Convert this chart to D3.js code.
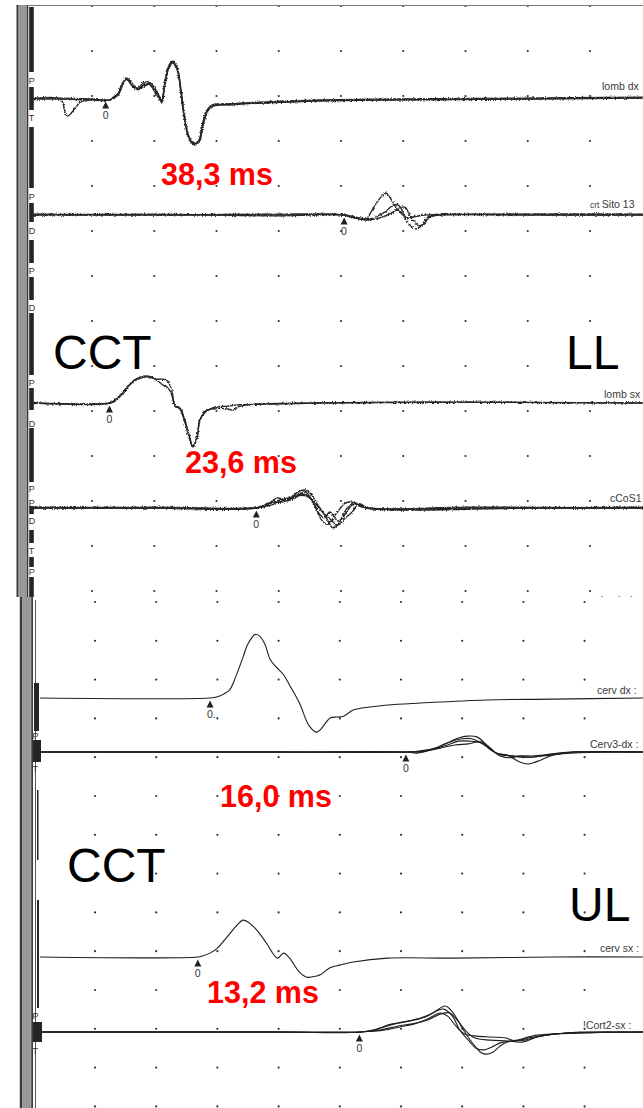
<!DOCTYPE html>
<html>
<head>
<meta charset="utf-8">
<script src="https://cdn.jsdelivr.net/npm/d3@7"></script>
<style>
  html, body { margin: 0; padding: 0; background: #fff; }
  svg { display: block; }
</style>
</head>
<body>
<script>
// ---------------- data ----------------
// Channel names as printed at the right end of each sweep
const lowerChannels = ["lomb dx", "crt Sito 13", "lomb sx", "cCoS1"];
const upperChannels = ["cerv dx :", "Cerv3-dx :", "cerv sx :", "!Cort2-sx :"];

// Spinal (lumbar / cervical) onset marker, ms, and central conduction time, ms
const lowerSpinalOnset = [12.2, 12.8];
const lowerCct = [38.3, 23.6];
const upperSpinalOnset = [14.4, 13.4];
const upperCct = [16.0, 13.2];

// Onset marker captions, one per channel
const lowerMarkerText = ["0", "0", "0", "0"];
const upperMarkerText = ["0.", "0", "0", "0"];

// Time grid (ms): 10 ms/div for the lower limbs, 5 ms/div for the upper limbs
const lowerTimeTicks = [10, 20, 30, 40, 50, 60, 70, 80, 90];
const upperTimeTicks = [5, 10, 15, 20, 25, 30, 35, 40, 45];
const gridRows = [0, 1, 2, 3, 4, 5, 6, 7, 8, 9, 10, 11, 12, 13];

// Averaged sweeps: [time ms, amplitude in vertical divisions, positive up]
const lombDx = [
  [[0.7,0],[4.9,0],[9.7,-0.02],[12.9,-0.02],[13.4,0.04],[14.2,0.11],[14.8,0.3],[15.5,0.47],[16.1,0.4],[16.6,0.33],[17.4,0.2],[18.2,0.31],[18.8,0.33],[19.3,0.36],[20.1,0.24],[20.9,0.02],[21.2,-0.09],[21.7,0.31],[22.4,0.71],[23.0,0.82],[23.7,0.69],[24.3,0.2],[24.9,-0.42],[25.6,-0.84],[26.4,-1.02],[27.2,-0.91],[27.8,-0.53],[28.5,-0.24],[29.3,-0.13],[32.2,-0.11],[37.0,-0.07],[46.6,-0.02],[59.5,0.0],[78.8,0.02],[98.5,0.04]],
  [[0.7,0],[4.9,0],[6.0,-0.38],[7.3,-0.2],[8.1,-0.07],[9.7,-0.02],[12.9,-0.02],[13.4,0.02],[14.2,0.09],[14.8,0.27],[15.5,0.44],[16.1,0.38],[16.6,0.29],[17.4,0.24],[18.2,0.36],[18.8,0.38],[19.3,0.33],[20.1,0.16],[20.9,-0.02],[21.2,-0.04],[21.7,0.33],[22.4,0.73],[23.0,0.8],[23.7,0.64],[24.3,0.16],[24.9,-0.47],[25.6,-0.87],[26.4,-0.98],[27.2,-0.96],[27.8,-0.6],[28.5,-0.29],[29.3,-0.16],[32.2,-0.13],[37.0,-0.09],[46.6,-0.04],[59.5,-0.02],[78.8,0.0],[98.5,0.02]],
  [[0.7,0.02],[4.9,0.02],[9.7,0],[12.9,-0.02],[13.4,0.02],[14.2,0.13],[14.8,0.33],[15.5,0.44],[16.1,0.36],[16.6,0.27],[17.4,0.22],[18.2,0.27],[18.8,0.31],[19.3,0.31],[20.1,0.2],[20.9,0.04],[21.2,-0.04],[21.7,0.36],[22.4,0.76],[23.0,0.84],[23.7,0.67],[24.3,0.13],[24.9,-0.47],[25.6,-0.89],[26.4,-1.0],[27.2,-0.93],[27.8,-0.56],[28.5,-0.27],[29.3,-0.16],[32.2,-0.11],[37.0,-0.09],[46.6,-0.04],[59.5,-0.02],[78.8,0.0],[98.5,0.02]]
];
const crtSito = [
  [[0.7,0],[20,0.02],[40,-0.02],[50.5,0],[52.3,-0.07],[54.0,-0.09],[55.0,0.11],[56.3,0.38],[57.2,0.49],[58.0,0.36],[58.8,0.18],[59.8,0.02],[60.8,-0.07],[61.7,-0.04],[63.5,0],[75,0.02],[98.5,0.02]],
  [[0.7,0.02],[20,0],[40,0],[50.5,0],[53.1,-0.09],[54.3,-0.11],[55.6,-0.04],[57.1,0.07],[58.2,0.2],[59.0,0.24],[59.6,0.16],[60.4,-0.09],[61.2,-0.24],[62.0,-0.31],[62.9,-0.24],[64.0,-0.04],[65.9,0],[80,0],[98.5,0]],
  [[0.7,0],[20,0],[40,0.02],[50.5,0],[53.9,-0.09],[55.5,-0.09],[57.1,-0.02],[58.7,0.09],[59.8,0.18],[60.4,0.16],[61.1,-0.02],[61.9,-0.16],[62.5,-0.24],[63.3,-0.2],[64.3,-0.04],[65.9,0],[85,0],[98.5,0]]
];
const lombSx = [
  [[0.7,0],[12.9,0],[13.7,0.07],[15.0,0.24],[16.6,0.47],[18.8,0.58],[20.4,0.53],[22.0,0.51],[22.8,0.29],[23.3,-0.04],[24.1,-0.11],[24.9,-0.38],[25.7,-0.76],[26.2,-0.98],[26.9,-0.76],[27.3,-0.38],[28.2,-0.2],[29.4,-0.11],[31.7,-0.07],[33.8,-0.04],[46.6,0],[64.3,0.02],[98.5,0]],
  [[0.7,0],[12.9,0],[13.7,0.04],[15.0,0.22],[16.6,0.49],[18.8,0.6],[20.4,0.51],[21.4,0.4],[22.0,0.36],[22.8,0.2],[23.3,-0.07],[24.1,-0.13],[24.9,-0.42],[25.7,-0.8],[26.2,-0.96],[26.9,-0.73],[27.3,-0.4],[28.2,-0.18],[29.4,-0.13],[31.7,-0.13],[32.7,-0.16],[33.8,-0.07],[46.6,0],[98.5,0]]
];
const cCoS1 = [
  [[0.7,0],[20,0.02],[36.3,0],[37.8,0.04],[39.7,0.22],[41.5,0.18],[43.1,0.36],[44.2,0.4],[45.3,0.29],[46.3,0.07],[47.4,-0.16],[48.7,-0.44],[49.8,-0.31],[51.0,0],[52.3,0.11],[53.9,0],[70,0.02],[98.5,0]],
  [[0.7,0.02],[20,0],[36.3,0],[38.3,0.09],[40.2,0.18],[42.1,0.24],[43.7,0.31],[45.0,0.24],[46.0,0],[46.9,-0.27],[47.9,-0.36],[49.2,-0.13],[50.7,0.11],[51.8,0.13],[53.4,0.02],[75,0],[98.5,0]],
  [[0.7,0],[20,0],[36.3,0],[38.6,0.11],[40.5,0.13],[42.6,0.22],[44.2,0.36],[45.3,0.18],[46.3,-0.09],[47.3,-0.22],[48.2,-0.09],[49.5,-0.29],[50.5,-0.18],[51.8,0.07],[53.1,0.09],[54.3,0],[80,0],[98.5,0.02]],
  [[0.7,0],[20,0],[36.3,0],[38.9,0.07],[41.0,0.18],[42.8,0.27],[44.4,0.27],[45.8,0.11],[46.9,-0.07],[48.2,-0.24],[49.5,-0.38],[50.7,-0.22],[51.8,-0.09],[52.7,0.07],[54.3,0],[70,0],[98.5,0]]
];
const cervDx = [
  [[0.5,0],[14.4,0],[15.0,0.03],[15.5,0.1],[16.0,0.21],[16.5,0.55],[17.1,1.06],[17.5,1.4],[18.1,1.64],[18.5,1.58],[18.9,1.37],[19.3,1.0],[19.8,0.8],[20.4,0.6],[20.9,0.33],[21.7,-0.13],[22.5,-0.72],[23.1,-0.88],[23.4,-0.82],[24.2,-0.52],[24.8,-0.49],[25.3,-0.47],[26.1,-0.31],[27.5,-0.23],[28.9,-0.18],[31.6,-0.13],[37.0,-0.05],[42.4,-0.03],[49.8,0]]
];
const cerv3Dx = [
  [[0.5,0],[20,0],[30.5,0],[31.3,-0.03],[32.4,0.05],[33.6,0.21],[34.7,0.36],[35.4,0.41],[36.2,0.39],[37.0,0.18],[37.8,-0.03],[38.7,-0.08],[39.7,-0.26],[40.4,-0.31],[41.4,-0.21],[42.4,-0.08],[43.8,-0.03],[49.8,0]],
  [[0.5,0],[20,0],[30.5,0],[31.6,0],[32.8,0.1],[34.0,0.26],[35.0,0.34],[35.8,0.34],[36.8,0.18],[37.6,0],[38.5,-0.08],[39.7,-0.13],[40.9,-0.13],[42.2,-0.05],[43.8,0],[49.8,0]],
  [[0.5,0],[20,0],[30.5,0],[31.6,0.03],[32.6,0.08],[33.8,0.18],[34.7,0.28],[35.6,0.28],[36.6,0.23],[37.4,0.05],[38.1,-0.1],[38.9,-0.15],[39.7,-0.1],[40.9,-0.1],[42.6,-0.05],[44.2,0],[49.8,0]],
  [[0.5,0],[20,0],[30.5,0],[32.0,0.03],[33.2,0.1],[34.4,0.18],[35.5,0.21],[36.5,0.26],[37.3,0.1],[37.9,-0.05],[39.1,-0.1],[40.5,-0.13],[42.2,-0.08],[44.2,0],[49.8,0]]
];
const cervSx = [
  [[0.5,0],[13.4,0],[13.8,0.03],[14.4,0.1],[15.0,0.23],[15.8,0.52],[16.6,0.82],[17.1,0.95],[17.5,0.9],[18.2,0.7],[19.0,0.36],[19.9,-0.03],[20.4,0.1],[20.9,-0.03],[21.7,-0.39],[22.3,-0.52],[23.1,-0.49],[23.4,-0.46],[24.2,-0.28],[25.0,-0.21],[26.1,-0.13],[28.9,-0.03],[34.2,-0.03],[42.4,0],[49.8,0]]
];
const cort2Sx = [
  [[0.5,0],[20,0],[26.7,0],[27.9,0.05],[28.9,0.18],[30.2,0.26],[31.6,0.36],[32.6,0.49],[33.6,0.67],[34.2,0.52],[35.1,0.05],[35.9,-0.31],[36.5,-0.52],[36.9,-0.57],[37.5,-0.52],[38.1,-0.36],[38.7,-0.26],[39.5,-0.21],[41.1,-0.08],[43.8,-0.03],[49.8,0]],
  [[0.5,0],[20,0],[26.7,0],[28.3,0.1],[29.5,0.21],[30.7,0.28],[32.0,0.39],[32.9,0.54],[33.5,0.59],[34.2,0.41],[34.8,0.05],[35.5,-0.21],[36.1,-0.41],[36.8,-0.46],[37.4,-0.39],[38.1,-0.28],[38.9,-0.23],[40.1,-0.21],[41.8,-0.08],[44.2,-0.03],[49.8,0]],
  [[0.5,0],[20,0],[26.7,0],[28.7,0.05],[29.9,0.13],[31.1,0.21],[32.2,0.34],[33.2,0.49],[33.8,0.41],[34.5,0.15],[35.2,-0.05],[36.0,-0.1],[37.3,-0.13],[38.5,-0.15],[39.3,-0.23],[40.5,-0.15],[42.6,-0.05],[44.6,0],[49.8,0]],
  [[0.5,0],[20,0],[26.7,0],[28.3,0.05],[29.7,0.15],[30.9,0.21],[32.2,0.31],[33.2,0.46],[34.0,0.49],[34.7,0.26],[35.3,0.03],[36.0,-0.15],[37.3,-0.21],[38.7,-0.23],[39.9,-0.26],[41.4,-0.1],[43.4,-0.03],[49.8,0]]
];

// ---------------- layout ----------------
const W = 643, H = 1108;
const FONT = "'Liberation Sans', Arial, Helvetica, sans-serif";

const lowerPanel = {
  clip: [0, 597], xRange: [29.75, 652.25], xDomain: [0, 100], divPx: 45,
  rowRange: [6, 591], baselines: [99, 215, 403, 508],
  labelPos: [[602, -9], [606, -7], [604, -5], [610, -6]],
  noisy: true
};
const upperPanel = {
  clip: [597, 1108], xRange: [33.8, 645.8], xDomain: [0, 50], divPx: 38.8,
  rowRange: [602, 1106.4], baselines: [698, 752, 957, 1032],
  labelPos: [[597, -4], [590, -4], [600, -5], [583, -3]],
  noisy: false
};

const svg = d3.select("body").append("svg")
  .attr("width", W).attr("height", H)
  .attr("font-family", FONT);
svg.append("rect").attr("width", W).attr("height", H).attr("fill", "#fff");

const defs = svg.append("defs");
// scanner grain on the noisy low-amplitude lower-limb recordings
[1, 2, 3, 4].forEach(s => {
  const f = defs.append("filter").attr("id", "grain" + s)
    .attr("filterUnits", "userSpaceOnUse")
    .attr("x", 0).attr("y", 0).attr("width", W).attr("height", H);
  f.append("feTurbulence").attr("type", "fractalNoise")
    .attr("baseFrequency", "0.9 0.6").attr("numOctaves", 2)
    .attr("seed", s * 11).attr("result", "n");
  f.append("feDisplacementMap").attr("in", "SourceGraphic").attr("in2", "n")
    .attr("scale", 3.0).attr("xChannelSelector", "R").attr("yChannelSelector", "G");
});
[lowerPanel, upperPanel].forEach((p, i) => {
  defs.append("clipPath").attr("id", "clip" + i)
    .append("rect").attr("x", 0).attr("y", p.clip[0])
    .attr("width", W).attr("height", p.clip[1] - p.clip[0]);
});

function drawPanel(p, idx, names, traceSets, spinal, cct, markerText, ticks) {
  const g = svg.append("g").attr("clip-path", `url(#clip${idx})`);
  const x = d3.scaleLinear().domain(p.xDomain).range(p.xRange);
  const row = d3.scaleLinear().domain([0, gridRows.length - 1]).range(p.rowRange);

  // dotted division grid
  const dots = [];
  ticks.forEach(t => gridRows.forEach(r => dots.push([t, r])));
  g.append("g").selectAll("circle").data(dots).join("circle")
    .attr("cx", d => x(d[0])).attr("cy", d => row(d[1]))
    .attr("r", 1.1).attr("fill", "#333");

  // marker times: spinal onset and spinal onset + CCT
  const markerTimes = [];
  spinal.forEach((s, i) => { markerTimes.push(s, +(s + cct[i]).toFixed(1)); });

  names.forEach((name, c) => {
    const base = p.baselines[c];
    const y = d3.scaleLinear().domain([-1, 1]).range([base + p.divPx, base - p.divPx]);
    const line = d3.line().x(d => x(d[0])).y(d => y(d[1]))
      .curve(d3.curveCatmullRom.alpha(0.5));
    const cg = g.append("g");
    cg.selectAll("path").data(traceSets[c]).join("path")
      .attr("d", line).attr("fill", "none")
      .attr("stroke", p.noisy ? "#262626" : "#1e1e1e")
      .attr("stroke-width", p.noisy ? 1.4 : 1.1)
      .attr("stroke-linejoin", "round")
      .attr("filter", (d, k) => p.noisy ? `url(#grain${(c + k) % 4 + 1})` : null);

    // onset marker
    const mx = x(markerTimes[c]);
    cg.append("path")
      .attr("d", `M${mx},${base + 2.5}L${mx - 3.5},${base + 9.5}L${mx + 3.5},${base + 9.5}Z`)
      .attr("fill", "#222");
    cg.append("text").attr("x", mx - 3).attr("y", base + 20)
      .attr("font-size", 10.5).attr("fill", "#333").text(markerText[c]);

    // channel name
    const [lx, ldy] = p.labelPos[c];
    const label = cg.append("text").attr("x", lx).attr("y", base + ldy)
      .attr("font-size", 10.5).attr("fill", "#3a3a3a");
    if (name.startsWith("crt ")) {
      label.attr("x", lx - 16);
      label.append("tspan").attr("font-size", 8.5).text("crt ");
      label.append("tspan").text(name.slice(4));
    } else {
      label.text(name);
    }
  });
  return { x, row };
}

drawPanel(lowerPanel, 0, lowerChannels, [lombDx, crtSito, lombSx, cCoS1],
  lowerSpinalOnset, lowerCct, lowerMarkerText, lowerTimeTicks);
drawPanel(upperPanel, 1, upperChannels, [cervDx, cerv3Dx, cervSx, cort2Sx],
  upperSpinalOnset, upperCct, upperMarkerText, upperTimeTicks);

// next sweep's name, cut at the lower edge of the first sheet
svg.append("g").attr("clip-path", "url(#clip0)")
  .append("text").attr("x", 601).attr("y", 604)
  .attr("font-size", 10.5).attr("fill", "#3a3a3a").text("lomb dx");

// top edge of the first sheet
svg.append("line").attr("x1", 16.5).attr("x2", W).attr("y1", 5.5).attr("y2", 5.5)
  .attr("stroke", "#777").attr("stroke-width", 1.1);

// ---- instrument channel strip, lower-limb sheet ----
const sL = svg.append("g");
sL.append("rect").attr("x", 16.5).attr("y", 5).attr("width", 2.2).attr("height", 592).attr("fill", "#3c3c3c");
sL.append("rect").attr("x", 18.7).attr("y", 5).attr("width", 8).attr("height", 592).attr("fill", "#a9a9a9");
[20.2, 22.4, 24.6].forEach(v => sL.append("rect").attr("x", v).attr("y", 5).attr("width", 0.8).attr("height", 592).attr("fill", "#7c7c7c"));
sL.append("rect").attr("x", 26.7).attr("y", 5).attr("width", 1.6).attr("height", 592).attr("fill", "#363636");
sL.append("rect").attr("x", 28.3).attr("y", 5).attr("width", 0.9).attr("height", 592).attr("fill", "#c4c4c4");
const lowerBlocks = [[7,72],[87,110],[127,188],[203,222],[240,263],[277,300],[313,375],[388,410],[428,482],[506,514],[530,543],[557,567],[577,597]];
sL.selectAll("rect.blk").data(lowerBlocks).join("rect").attr("class", "blk")
  .attr("x", 29.2).attr("y", d => d[0]).attr("width", 4.6).attr("height", d => d[1] - d[0])
  .attr("fill", "#262626");
const lowerLetters = [["P",80],["T",117],["P",196],["D",230],["P",270],["D",307],["P",382],["D",423],["P",488],["P",502],["D",520],["T",550],["P",571]];
sL.selectAll("text").data(lowerLetters).join("text")
  .attr("x", 28.8).attr("y", d => d[1] + 3.5).attr("font-size", 9).attr("fill", "#333").text(d => d[0]);
lowerPanel.baselines.forEach(b => sL.append("rect").attr("x", 33).attr("y", b - 1.2).attr("width", 3).attr("height", 2.4).attr("fill", "#2a2a2a"));

// ---- instrument channel strip, upper-limb sheet ----
const sU = svg.append("g");
sU.append("rect").attr("x", 19.8).attr("y", 597).attr("width", 2.2).attr("height", 511).attr("fill", "#3a3a3a");
sU.append("rect").attr("x", 22).attr("y", 597).attr("width", 9.2).attr("height", 511).attr("fill", "#a3a3a3");
[23.6, 26, 28.6].forEach(v => sU.append("rect").attr("x", v).attr("y", 597).attr("width", 0.8).attr("height", 511).attr("fill", "#808080"));
sU.append("rect").attr("x", 31.2).attr("y", 597).attr("width", 1.8).attr("height", 511).attr("fill", "#3e3e3e");
sU.append("rect").attr("x", 35).attr("y", 600).attr("width", 1).attr("height", 508).attr("fill", "#555");
const upperBlocks = [[683,731,34,39],[740,762,33,41],[1022,1042,33,42],[900,1008,37,39],[790,860,37,38.5]];
sU.selectAll("rect.blk").data(upperBlocks).join("rect").attr("class", "blk")
  .attr("x", d => d[2]).attr("y", d => d[0]).attr("width", d => d[3] - d[2]).attr("height", d => d[1] - d[0])
  .attr("fill", "#262626");
const upperLetters = [["P",735],["T",768],["P",1015],["T",1050]];
sU.selectAll("text").data(upperLetters).join("text")
  .attr("x", 32.5).attr("y", d => d[1] + 3.5).attr("font-size", 9).attr("fill", "#333").text(d => d[0]);

// ---- annotations ----
const fmt = v => v.toFixed(1).replace(".", ",") + " ms";
const cctPos = [[161, 185], [185, 473], [220, 807], [207, 1003]];
[...lowerCct, ...upperCct].forEach((v, i) => {
  svg.append("text").attr("x", cctPos[i][0]).attr("y", cctPos[i][1])
    .attr("font-size", 30.5).attr("font-weight", "bold").attr("fill", "#ff0000")
    .text(fmt(v));
});
const bigText = [["CCT", 53, 369], ["LL", 566, 369], ["CCT", 67, 882], ["UL", 569, 921]];
bigText.forEach(([t, bx, by]) => {
  svg.append("text").attr("x", bx).attr("y", by)
    .attr("font-size", 48).attr("fill", "#000").text(t);
});
</script>
</body>
</html>
